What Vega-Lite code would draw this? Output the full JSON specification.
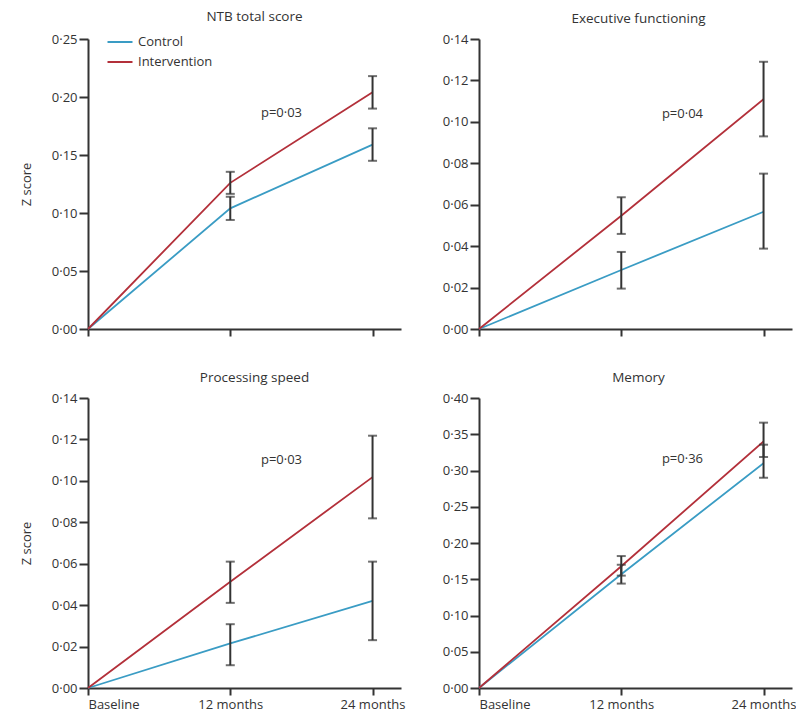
{
  "$schema": "https://vega.github.io/schema/vega-lite/v6.json",
  "padding": {"left": 20, "top": 9, "right": 0, "bottom": 0},
  "bounds": "flush",
  "datasets": {
    "scores": [
      {"panel": "NTB", "group": "Control", "time": 0, "mean": 0, "lo": null, "hi": null},
      {"panel": "NTB", "group": "Control", "time": 1, "mean": 0.104, "lo": 0.094, "hi": 0.114},
      {"panel": "NTB", "group": "Control", "time": 2, "mean": 0.159, "lo": 0.145, "hi": 0.173},
      {"panel": "NTB", "group": "Intervention", "time": 0, "mean": 0, "lo": null, "hi": null},
      {"panel": "NTB", "group": "Intervention", "time": 1, "mean": 0.126, "lo": 0.1165, "hi": 0.1355},
      {"panel": "NTB", "group": "Intervention", "time": 2, "mean": 0.204, "lo": 0.19, "hi": 0.218},
      {"panel": "Exec", "group": "Control", "time": 0, "mean": 0, "lo": null, "hi": null},
      {"panel": "Exec", "group": "Control", "time": 1, "mean": 0.0285, "lo": 0.0195, "hi": 0.0372},
      {"panel": "Exec", "group": "Control", "time": 2, "mean": 0.0566, "lo": 0.0388, "hi": 0.075},
      {"panel": "Exec", "group": "Intervention", "time": 0, "mean": 0, "lo": null, "hi": null},
      {"panel": "Exec", "group": "Intervention", "time": 1, "mean": 0.0547, "lo": 0.0459, "hi": 0.0636},
      {"panel": "Exec", "group": "Intervention", "time": 2, "mean": 0.1109, "lo": 0.093, "hi": 0.129},
      {"panel": "Speed", "group": "Control", "time": 0, "mean": 0, "lo": null, "hi": null},
      {"panel": "Speed", "group": "Control", "time": 1, "mean": 0.0215, "lo": 0.011, "hi": 0.0308},
      {"panel": "Speed", "group": "Control", "time": 2, "mean": 0.0421, "lo": 0.0231, "hi": 0.061},
      {"panel": "Speed", "group": "Intervention", "time": 0, "mean": 0, "lo": null, "hi": null},
      {"panel": "Speed", "group": "Intervention", "time": 1, "mean": 0.0513, "lo": 0.0411, "hi": 0.061},
      {"panel": "Speed", "group": "Intervention", "time": 2, "mean": 0.1018, "lo": 0.0819, "hi": 0.1218},
      {"panel": "Memory", "group": "Control", "time": 0, "mean": 0, "lo": null, "hi": null},
      {"panel": "Memory", "group": "Control", "time": 1, "mean": 0.157, "lo": 0.144, "hi": 0.17},
      {"panel": "Memory", "group": "Control", "time": 2, "mean": 0.31, "lo": 0.29, "hi": 0.3356},
      {"panel": "Memory", "group": "Intervention", "time": 0, "mean": 0, "lo": null, "hi": null},
      {"panel": "Memory", "group": "Intervention", "time": 1, "mean": 0.168, "lo": 0.155, "hi": 0.182},
      {"panel": "Memory", "group": "Intervention", "time": 2, "mean": 0.34, "lo": 0.3186, "hi": 0.366}
    ],
    "pvalues": [
      {"panel": "NTB", "label": "p=0·03"},
      {"panel": "Exec", "label": "p=0·04"},
      {"panel": "Speed", "label": "p=0·03"},
      {"panel": "Memory", "label": "p=0·36"}
    ]
  },
  "columns": 2,
  "spacing": {"row": 69, "column": 78},
  "resolve": {"legend": {"color": "independent"}},
  "concat": [
    {
      "title": {"text": "NTB total score", "dx": 10},
      "width": 313, "height": 290,
      "data": {"name": "scores"},
      "transform": [{"filter": "datum.panel === 'NTB'"}],
      "layer": [
        {
          "mark": {"type": "line", "strokeWidth": 1.8},
          "encoding": {
            "x": {"field": "time", "type": "quantitative", "scale": {"domain": [0, 2.2], "nice": false}, "axis": {"values": [0, 1, 2], "labels": false, "title": null}},
            "y": {"field": "mean", "type": "quantitative", "title": "Z score", "scale": {"domain": [0, 0.25], "nice": false}, "axis": {"values": [0, 0.05, 0.1, 0.15, 0.2, 0.25], "tickCount": 20, "labelExpr": "replace(format(datum.value, '.2f'), '.', '·')"}},
            "color": {"field": "group", "type": "nominal", "scale": {"domain": ["Control", "Intervention"], "range": ["#3a9cc4", "#b3303a"]},
              "legend": {"title": null, "orient": "none", "legendX": 21, "legendY": -8, "symbolType": "M-1.25,0H1.25", "symbolSize": 400, "symbolStrokeWidth": 2, "labelOffset": 7, "rowPadding": 2, "labelFontSize": 13, "labelFont": "Open Sans", "labelColor": "#333"}}
          }
        },
        {
          "transform": [{"filter": "datum.time > 0"}],
          "mark": {"type": "errorbar", "ticks": true, "color": "#333", "thickness": 2, "size": 9},
          "encoding": {
            "x": {"field": "time", "type": "quantitative"},
            "y": {"field": "lo", "type": "quantitative", "title": "Z score", "scale": {"domain": [0, 0.25], "nice": false}, "axis": {"values": [0, 0.05, 0.1, 0.15, 0.2, 0.25], "tickCount": 20, "labelExpr": "replace(format(datum.value, '.2f'), '.', '·')"}},
            "y2": {"field": "hi"}
          }
        },
        {
          "data": {"name": "pvalues"},
          "transform": [{"filter": "datum.panel === 'NTB'"}],
          "mark": {"type": "text", "fontSize": 13, "color": "#333", "font": "Open Sans"},
          "encoding": {"x": {"datum": 1.36}, "y": {"datum": 0.186}, "text": {"field": "label"}}
        }
      ]
    },
    {
      "title": {"text": "Executive functioning", "dx": 3},
      "width": 313, "height": 290,
      "data": {"name": "scores"},
      "transform": [{"filter": "datum.panel === 'Exec'"}],
      "layer": [
        {
          "mark": {"type": "line", "strokeWidth": 1.8},
          "encoding": {
            "x": {"field": "time", "type": "quantitative", "scale": {"domain": [0, 2.2], "nice": false}, "axis": {"values": [0, 1, 2], "labels": false, "title": null}},
            "y": {"field": "mean", "type": "quantitative", "title": null, "scale": {"domain": [0, 0.14], "nice": false}, "axis": {"values": [0, 0.02, 0.04, 0.06, 0.08, 0.1, 0.12, 0.14], "tickCount": 20, "labelExpr": "replace(format(datum.value, '.2f'), '.', '·')"}},
            "color": {"field": "group", "type": "nominal", "scale": {"domain": ["Control", "Intervention"], "range": ["#3a9cc4", "#b3303a"]}, "legend": null}
          }
        },
        {
          "transform": [{"filter": "datum.time > 0"}],
          "mark": {"type": "errorbar", "ticks": true, "color": "#333", "thickness": 2, "size": 9},
          "encoding": {
            "x": {"field": "time", "type": "quantitative"},
            "y": {"field": "lo", "type": "quantitative", "title": null, "scale": {"domain": [0, 0.14], "nice": false}, "axis": {"values": [0, 0.02, 0.04, 0.06, 0.08, 0.1, 0.12, 0.14], "tickCount": 20, "labelExpr": "replace(format(datum.value, '.2f'), '.', '·')"}},
            "y2": {"field": "hi"}
          }
        },
        {
          "data": {"name": "pvalues"},
          "transform": [{"filter": "datum.panel === 'Exec'"}],
          "mark": {"type": "text", "fontSize": 13, "color": "#333", "font": "Open Sans"},
          "encoding": {"x": {"datum": 1.43}, "y": {"datum": 0.104}, "text": {"field": "label"}}
        }
      ]
    },
    {
      "title": {"text": "Processing speed", "dx": 10},
      "width": 313, "height": 290,
      "data": {"name": "scores"},
      "transform": [{"filter": "datum.panel === 'Speed'"}],
      "layer": [
        {
          "mark": {"type": "line", "strokeWidth": 1.8},
          "encoding": {
            "x": {"field": "time", "type": "quantitative", "scale": {"domain": [0, 2.2], "nice": false}, "axis": {"values": [0, 1, 2], "title": null, "labelExpr": "datum.value == 0 ? 'Baseline' : datum.value == 1 ? '12 months' : '24 months'"}},
            "y": {"field": "mean", "type": "quantitative", "title": "Z score", "scale": {"domain": [0, 0.14], "nice": false}, "axis": {"values": [0, 0.02, 0.04, 0.06, 0.08, 0.1, 0.12, 0.14], "tickCount": 20, "labelExpr": "replace(format(datum.value, '.2f'), '.', '·')"}},
            "color": {"field": "group", "type": "nominal", "scale": {"domain": ["Control", "Intervention"], "range": ["#3a9cc4", "#b3303a"]}, "legend": null}
          }
        },
        {
          "transform": [{"filter": "datum.time > 0"}],
          "mark": {"type": "errorbar", "ticks": true, "color": "#333", "thickness": 2, "size": 9},
          "encoding": {
            "x": {"field": "time", "type": "quantitative"},
            "y": {"field": "lo", "type": "quantitative", "title": "Z score", "scale": {"domain": [0, 0.14], "nice": false}, "axis": {"values": [0, 0.02, 0.04, 0.06, 0.08, 0.1, 0.12, 0.14], "tickCount": 20, "labelExpr": "replace(format(datum.value, '.2f'), '.', '·')"}},
            "y2": {"field": "hi"}
          }
        },
        {
          "data": {"name": "pvalues"},
          "transform": [{"filter": "datum.panel === 'Speed'"}],
          "mark": {"type": "text", "fontSize": 13, "color": "#333", "font": "Open Sans"},
          "encoding": {"x": {"datum": 1.36}, "y": {"datum": 0.11}, "text": {"field": "label"}}
        }
      ]
    },
    {
      "title": {"text": "Memory", "dx": 3},
      "width": 313, "height": 290,
      "data": {"name": "scores"},
      "transform": [{"filter": "datum.panel === 'Memory'"}],
      "layer": [
        {
          "mark": {"type": "line", "strokeWidth": 1.8},
          "encoding": {
            "x": {"field": "time", "type": "quantitative", "scale": {"domain": [0, 2.2], "nice": false}, "axis": {"values": [0, 1, 2], "title": null, "labelExpr": "datum.value == 0 ? 'Baseline' : datum.value == 1 ? '12 months' : '24 months'"}},
            "y": {"field": "mean", "type": "quantitative", "title": null, "scale": {"domain": [0, 0.4], "nice": false}, "axis": {"values": [0, 0.05, 0.1, 0.15, 0.2, 0.25, 0.3, 0.35, 0.4], "tickCount": 20, "labelExpr": "replace(format(datum.value, '.2f'), '.', '·')"}},
            "color": {"field": "group", "type": "nominal", "scale": {"domain": ["Control", "Intervention"], "range": ["#3a9cc4", "#b3303a"]}, "legend": null}
          }
        },
        {
          "transform": [{"filter": "datum.time > 0"}],
          "mark": {"type": "errorbar", "ticks": true, "color": "#333", "thickness": 2, "size": 9},
          "encoding": {
            "x": {"field": "time", "type": "quantitative"},
            "y": {"field": "lo", "type": "quantitative", "title": null, "scale": {"domain": [0, 0.4], "nice": false}, "axis": {"values": [0, 0.05, 0.1, 0.15, 0.2, 0.25, 0.3, 0.35, 0.4], "tickCount": 20, "labelExpr": "replace(format(datum.value, '.2f'), '.', '·')"}},
            "y2": {"field": "hi"}
          }
        },
        {
          "data": {"name": "pvalues"},
          "transform": [{"filter": "datum.panel === 'Memory'"}],
          "mark": {"type": "text", "fontSize": 13, "color": "#333", "font": "Open Sans"},
          "encoding": {"x": {"datum": 1.43}, "y": {"datum": 0.316}, "text": {"field": "label"}}
        }
      ]
    }
  ],
  "config": {
    "font": "Open Sans",
    "view": {"stroke": null},
    "axis": {"grid": false, "labelOverlap": false, "domainColor": "#333", "domainWidth": 2, "tickColor": "#333", "tickWidth": 2, "labelFont": "Open Sans", "labelFontSize": 13, "labelColor": "#333", "titleFont": "Open Sans", "titleFontSize": 13, "titleFontWeight": "normal", "titleColor": "#333"},
    "axisY": {"tickSize": 9, "labelPadding": 2, "titlePadding": 18},
    "axisX": {"tickSize": 7, "labelPadding": 3},
    "title": {"fontSize": 13.5, "fontWeight": "normal", "color": "#333", "offset": 8, "font": "Open Sans"}
  }
}
